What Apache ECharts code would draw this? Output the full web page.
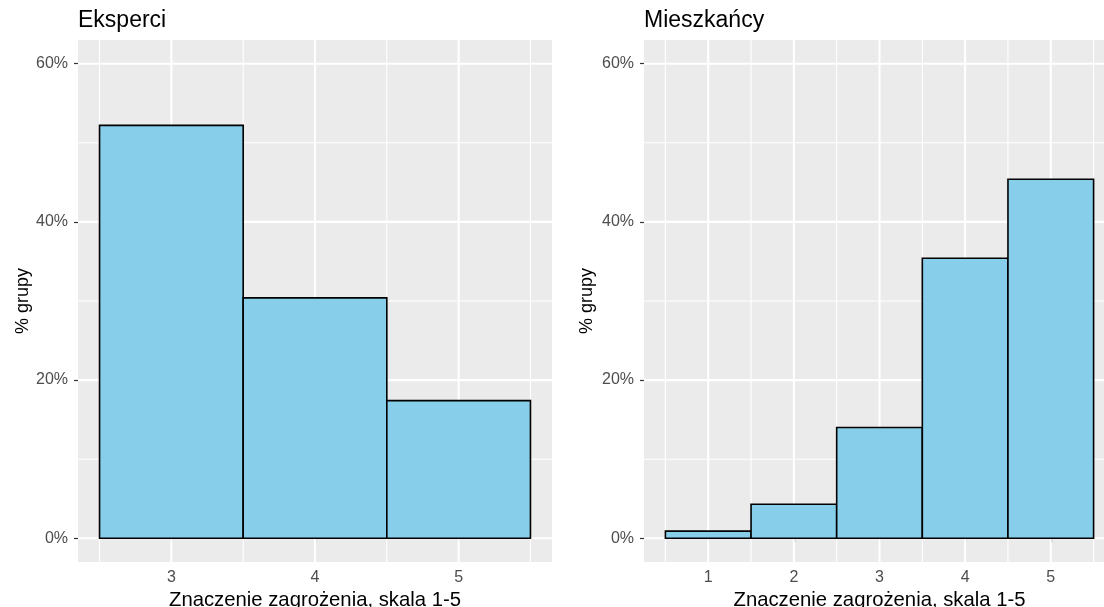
<!DOCTYPE html>
<html>
<head>
<meta charset="utf-8">
<script src="https://cdn.jsdelivr.net/npm/echarts@6/dist/echarts.min.js"></script>
<style>
  html, body { margin: 0; padding: 0; background: #ffffff; }
  #chart { width: 1104px; height: 607px; }
</style>
</head>
<body>
<div id="chart"></div>
<script>
// Panel titles and shared axis captions
const panelTitles = ['Eksperci', 'Mieszkańcy'];
const xAxisTitle = 'Znaczenie zagrożenia, skala 1-5';
const yAxisTitle = '% grupy';

// Experts: score -> share of group (%)
const eksperciScores = [3, 4, 5];
const eksperciPct = [52.2, 30.4, 17.4];

// Residents: score -> share of group (%)
const mieszkancyScores = [1, 2, 3, 4, 5];
const mieszkancyPct = [0.9, 4.3, 14.0, 35.4, 45.4];

// Histogram bin width (one score point)
const binWidth = 1;

// Axis breaks
const yTicks = [0, 20, 40, 60];
const yMinorBreaks = [10, 30, 50];
const eksperciXTicks = [3, 4, 5];
const eksperciXMinor = [2.5, 3.5, 4.5, 5.5];
const mieszkancyXTicks = [1, 2, 3, 4, 5];
const mieszkancyXMinor = [0.5, 1.5, 2.5, 3.5, 4.5, 5.5];

const FONT = '"Liberation Sans", Arial, Helvetica, sans-serif';
const AXIS_TEXT = '#4D4D4D';
const PANEL_BG = '#EBEBEB';
const BAR_FILL = '#87CEEB';

const chart = echarts.init(document.getElementById('chart'), null, { renderer: 'canvas' });

// Vertical / horizontal panel grid lines, placed through the axis scales
function gridLineSeries(gridIndex, values, dir, width) {
  return {
    type: 'custom',
    xAxisIndex: gridIndex,
    yAxisIndex: gridIndex,
    z: 1,
    silent: true,
    animation: false,
    clip: true,
    encode: dir === 'v' ? { x: 0, y: 1 } : { x: 1, y: 0 },
    data: values.map(v => [v, 0]),
    renderItem: function (params, api) {
      const cs = params.coordSys;
      let shape;
      if (dir === 'v') {
        const x = api.coord([api.value(0), 0])[0];
        shape = { x1: x, y1: cs.y, x2: x, y2: cs.y + cs.height };
      } else {
        const y = api.coord([0, api.value(0)])[1];
        shape = { x1: cs.x, y1: y, x2: cs.x + cs.width, y2: y };
      }
      return {
        type: 'line',
        shape: shape,
        style: { stroke: '#FFFFFF', lineWidth: width }
      };
    }
  };
}

// Histogram bars: each spans one bin centred on its score
function barSeries(gridIndex, scores, pct) {
  return {
    type: 'custom',
    xAxisIndex: gridIndex,
    yAxisIndex: gridIndex,
    z: 3,
    animation: false,
    data: scores.map((s, i) => [s, pct[i]]),
    renderItem: function (params, api) {
      const x = api.value(0);
      const y = api.value(1);
      const tl = api.coord([x - binWidth / 2, y]);
      const br = api.coord([x + binWidth / 2, 0]);
      return {
        type: 'rect',
        shape: { x: tl[0], y: tl[1], width: br[0] - tl[0], height: br[1] - tl[1] },
        style: { fill: BAR_FILL, stroke: '#000000', lineWidth: 1.6 }
      };
    }
  };
}

function xAxisFor(gridIndex, min, max, ticks) {
  return {
    type: 'value',
    gridIndex: gridIndex,
    min: min,
    max: max,
    axisLine: { show: false },
    splitLine: { show: false },
    minorSplitLine: { show: false },
    axisTick: { show: true, customValues: ticks, length: 4, lineStyle: { color: '#333333', width: 1.2 } },
    axisLabel: {
      customValues: ticks,
      color: AXIS_TEXT,
      fontSize: 16,
      fontFamily: FONT,
      margin: 8
    },
    name: xAxisTitle,
    nameLocation: 'middle',
    nameGap: 26,
    nameTextStyle: { color: '#000000', fontSize: 20.3, fontFamily: FONT }
  };
}

function yAxisFor(gridIndex, gap) {
  return {
    type: 'value',
    gridIndex: gridIndex,
    min: -3,
    max: 63,
    axisLine: { show: false },
    splitLine: { show: false },
    minorSplitLine: { show: false },
    axisTick: { show: true, customValues: yTicks, length: 4, lineStyle: { color: '#333333', width: 1.2 } },
    axisLabel: {
      customValues: yTicks,
      formatter: v => v + '%',
      color: AXIS_TEXT,
      fontSize: 16,
      fontFamily: FONT,
      margin: 10
    },
    name: yAxisTitle,
    nameLocation: 'middle',
    nameGap: gap,
    nameRotate: 90,
    nameTextStyle: { color: '#000000', fontSize: 18, fontFamily: FONT }
  };
}

const gridBase = {
  show: true,
  backgroundColor: PANEL_BG,
  borderWidth: 0,
  containLabel: false,
  outerBoundsMode: 'none'
};

const titleStyle = { fontSize: 23, fontWeight: 'normal', color: '#000000', fontFamily: FONT };

const option = {
  backgroundColor: '#FFFFFF',
  animation: false,
  title: [
    { text: panelTitles[0], left: 78, top: 9, padding: 0, textStyle: titleStyle },
    { text: panelTitles[1], left: 644, top: 9, padding: 0, textStyle: titleStyle }
  ],
  grid: [
    Object.assign({ left: 78, top: 40, width: 474, height: 522 }, gridBase),
    Object.assign({ left: 644, top: 40, width: 471, height: 522 }, gridBase)
  ],
  xAxis: [
    xAxisFor(0, 2.35, 5.65, eksperciXTicks),
    xAxisFor(1, 0.25, 5.75, mieszkancyXTicks)
  ],
  yAxis: [
    yAxisFor(0, 46),
    yAxisFor(1, 48)
  ],
  series: [
    gridLineSeries(0, yMinorBreaks, 'h', 1.1),
    gridLineSeries(0, eksperciXMinor, 'v', 1.1),
    gridLineSeries(0, yTicks, 'h', 2.1),
    gridLineSeries(0, eksperciXTicks, 'v', 2.1),
    barSeries(0, eksperciScores, eksperciPct),

    gridLineSeries(1, yMinorBreaks, 'h', 1.1),
    gridLineSeries(1, mieszkancyXMinor, 'v', 1.1),
    gridLineSeries(1, yTicks, 'h', 2.1),
    gridLineSeries(1, mieszkancyXTicks, 'v', 2.1),
    barSeries(1, mieszkancyScores, mieszkancyPct)
  ]
};

chart.setOption(option);
</script>
</body>
</html>
